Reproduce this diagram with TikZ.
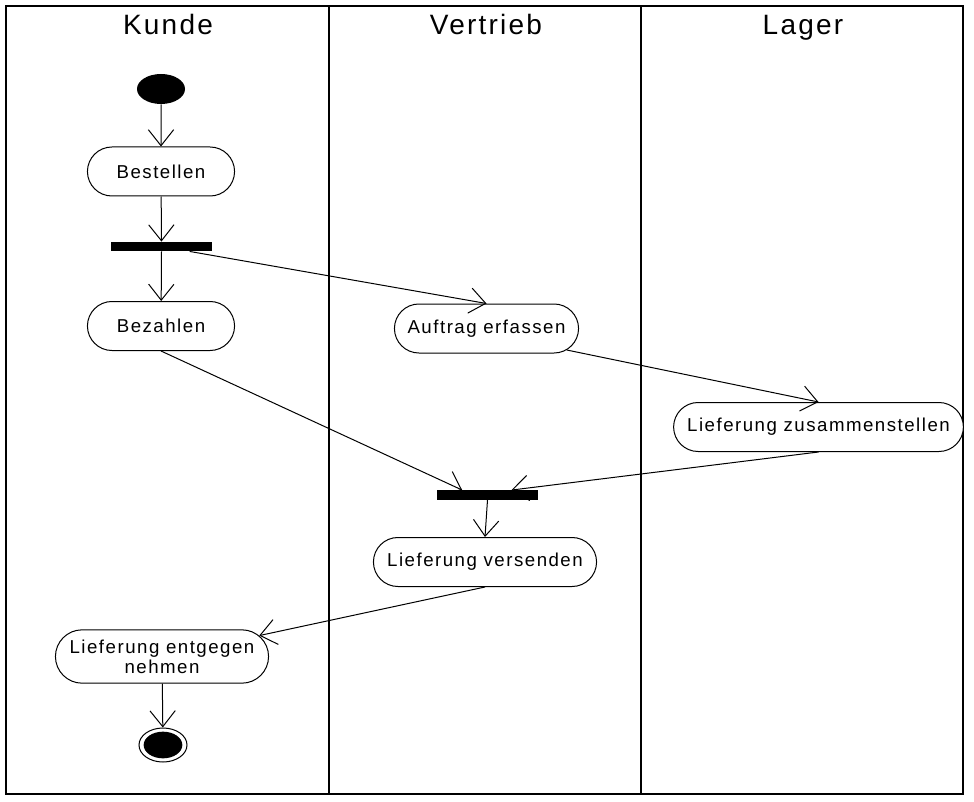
\documentclass[tikz,border=0pt]{standalone}
\usepackage{fontspec}
\setmainfont{Liberation Sans}[LetterSpace=8]
\usetikzlibrary{shapes.geometric,shapes.misc,arrows.meta}

\begin{document}
\begin{tikzpicture}[
        x=0.75pt, y=-0.75pt,
        action/.style={rounded rectangle, draw, line width=0.75pt, fill=white,
        minimum height=36.75pt, align=center,
        font=\fontsize{14}{15}\selectfont},
        bar/.style={rectangle, fill=black, minimum width=75.75pt,
        minimum height=7pt, inner sep=0pt},
        arrow/.style={line width=0.75pt, -{Straight Barb[length=12pt,width=19pt]}},
        lane/.style={line width=1.5pt},
        lanetitle/.style={anchor=base, font=\fontsize{21}{22}\selectfont}
    ]
    \useasboundingbox (0,0) rectangle (974,802);

% Swimlanes
        \draw[lane] (6,6) rectangle (963,794);
        \draw[lane] (329,6) -- (329,794);
        \draw[lane] (641,6) -- (641,794);
        \node[lanetitle] (kunde) at (168,35) {Kunde};
        \node[lanetitle] (vertrieb) at (486,35) {Vertrieb};
        \node[lanetitle] (lager) at (803,35) {Lager};

% Start and end
        \node[ellipse, fill=black, minimum width=36pt, minimum height=22.5pt,
        inner sep=0pt] (start) at (161,89) {};
        \node[ellipse, draw, line width=0.75pt, minimum width=36pt,
        minimum height=25.5pt, inner sep=0pt] (end) at (163,745) {};
        \node[ellipse, fill=black, minimum width=29pt, minimum height=20pt,
        inner sep=0pt] at (end) {};

% Actions
        \node[action, minimum width=117pt] (bestellen) at (161,171.5) {Bestellen};
        \node[bar] (fork) at (161.5,246.5) {};
        \node[action, minimum width=117pt] (bezahlen) at (161,326) {Bezahlen};
        \node[action, minimum width=144.75pt] (auftrag) at (486.5,328.5) {Auftrag erfassen};
        \node[action, minimum width=224pt] (zusammen) at (818.5,427) {Lieferung zusammenstellen};
        \node[bar] (join) at (487.5,495) {};
        \node[action, minimum width=174pt] (versenden) at (485,562) {Lieferung versenden};
        \node[action, minimum width=166.5pt, minimum height=40pt] (entgegen) at (162,656.5)
        {Lieferung entgegen\\ nehmen};

% Arrows
        \draw[arrow] (start) -- (bestellen);
        \draw[arrow] (bestellen) -- (fork);
        \draw[arrow] (fork.south) -- (bezahlen);
        \draw[arrow] (fork) -- (auftrag.north);
        \draw[arrow] (auftrag.-15) -- (zusammen.north);
        \draw[arrow] (bezahlen.south) -- ([xshift=-19pt]join.north);
        \draw[arrow] (zusammen.south) -- ([xshift=18pt]join.north);
        \draw[arrow] (join.south) -- (versenden.north);
        \draw[arrow] (versenden.south) -- (entgegen);
        \draw[arrow] (entgegen) -- (end);

    \end{tikzpicture}
\end{document}
